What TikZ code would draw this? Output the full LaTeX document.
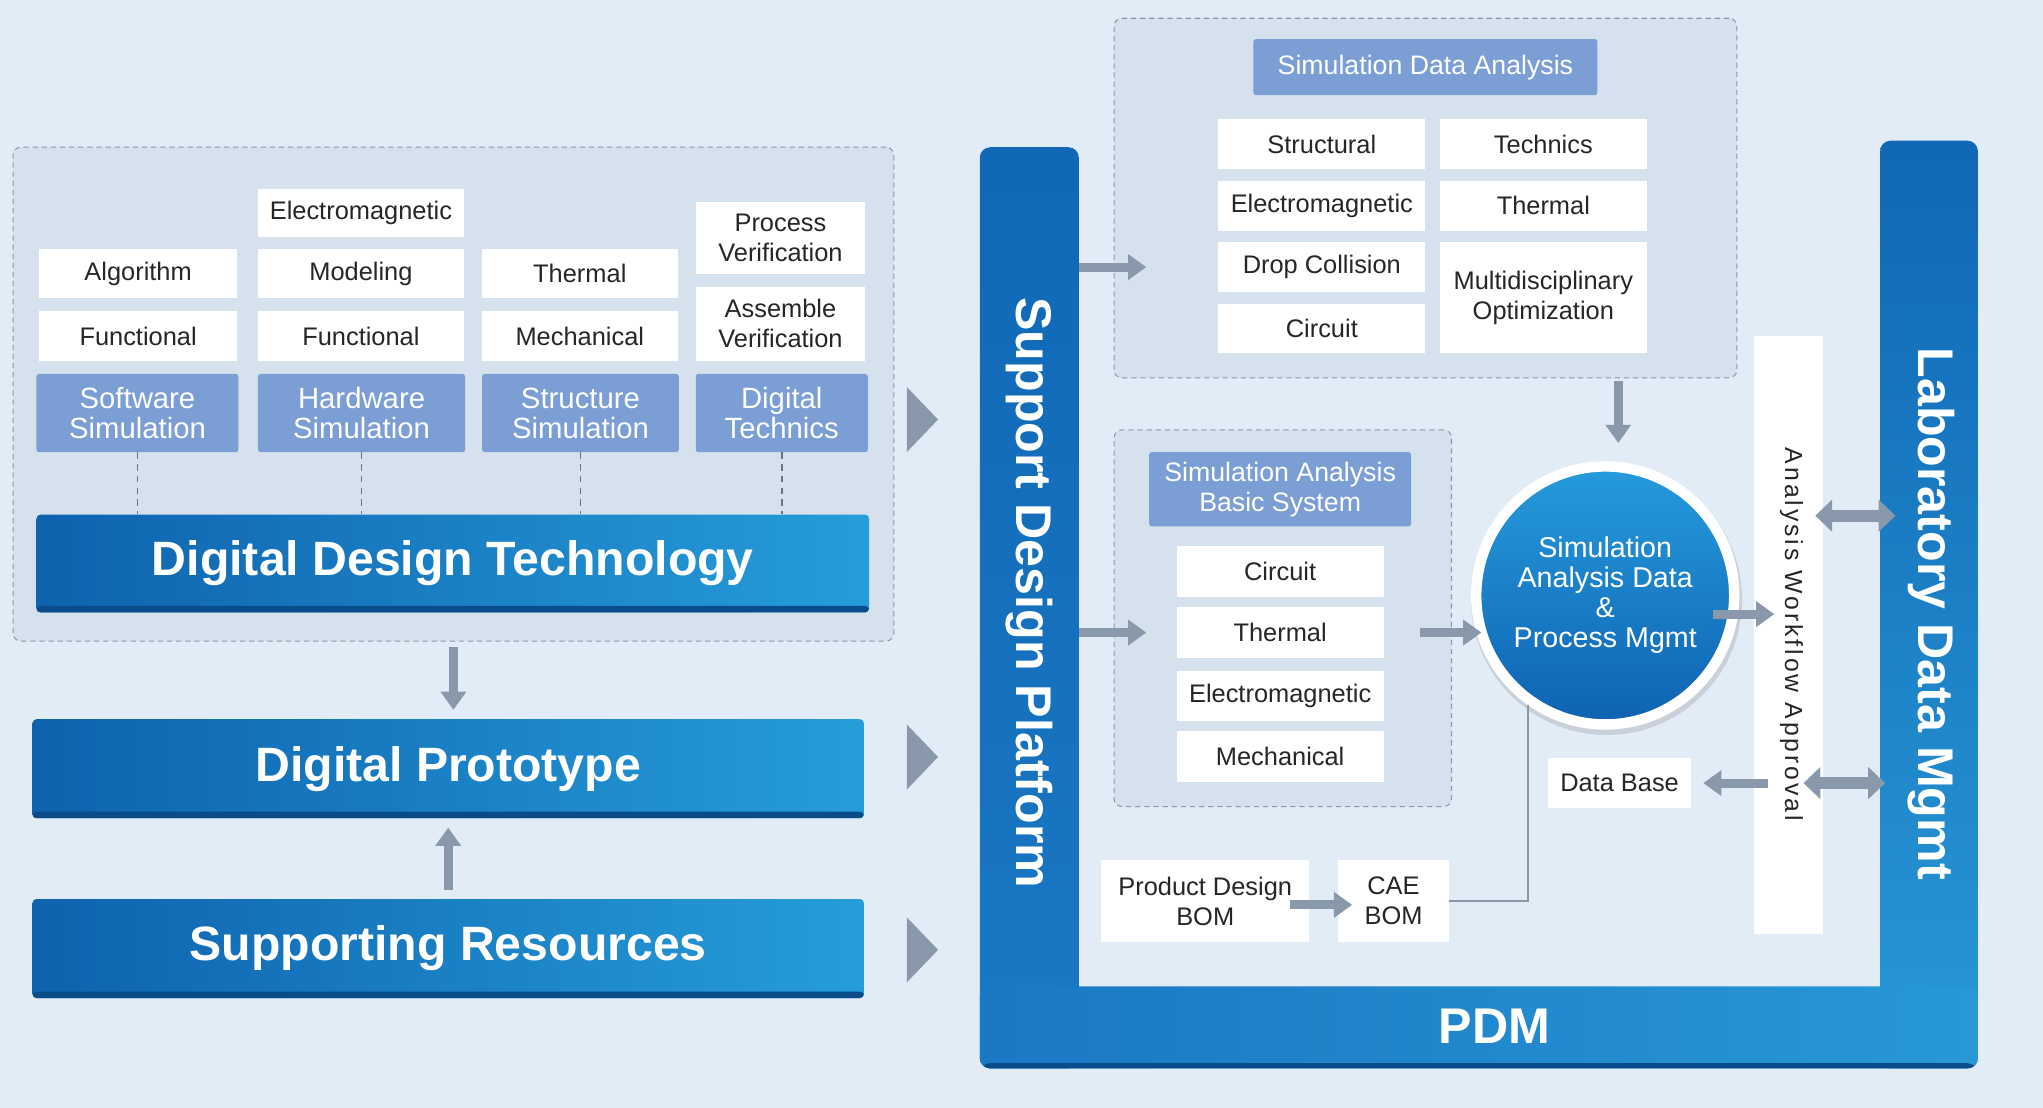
\documentclass[tikz,border=0pt]{standalone}
\usepackage{fontspec}
\setmainfont{Liberation Sans}
\usepackage{xcolor}
\usepackage{tikz}
\usetikzlibrary{arrows.meta, positioning, shapes.geometric, shadows, calc}
\definecolor{bgblue}{RGB}{226,236,247}
\definecolor{panelfill}{RGB}{213,226,238}
\definecolor{dashgray}{RGB}{140,152,170}
\definecolor{tickgray}{RGB}{105,115,132}
\definecolor{headblue}{RGB}{123,158,213}
\definecolor{barL}{RGB}{14,98,174}
\definecolor{barR}{RGB}{38,157,218}
\definecolor{barEdge}{RGB}{10,76,138}
\definecolor{arrowgray}{RGB}{138,152,172}
\definecolor{linegray}{RGB}{140,150,165}
\definecolor{celltext}{RGB}{38,38,38}
\definecolor{frameTop}{RGB}{16,104,182}
\definecolor{frameBot}{RGB}{26,120,196}
\definecolor{frameR}{RGB}{40,152,214}
\definecolor{circTop}{RGB}{38,155,220}
\definecolor{circBot}{RGB}{14,98,178}
\tikzset{
    sz/.style 2 args={minimum width=#1pt, minimum height=#2pt},
    cell/.style={fill=white, inner sep=0pt, align=center, text=celltext, font=\fontsize{19.5}{23}\selectfont},
    head/.style={fill=headblue, rounded corners=2pt, inner sep=0pt, align=center, text=white},
    bluebar/.style={left color=barL, right color=barR, rounded corners=3pt, inner sep=0pt, text=white,
        font=\bfseries\fontsize{37}{40}\selectfont,
        path picture={\fill[barEdge] (path picture bounding box.south west) rectangle ([yshift=5pt]path picture bounding box.south east);}},
    panel/.style={draw=dashgray, dash pattern=on 4pt off 3pt, line width=0.8pt, fill=panelfill, rounded corners=6pt, inner sep=0pt},
    framebar/.style={inner sep=0pt, rounded corners=8pt},
    framelabel/.style={text=white, font=\bfseries\fontsize{38.5}{40}\selectfont},
    blk/.style={draw=arrowgray, line width=7pt, -{Triangle[width=19pt,length=14pt]}},
    dbl/.style={draw=arrowgray, line width=9pt, {Triangle[width=24pt,length=13pt]}-{Triangle[width=24pt,length=13pt]}},
    tri/.style={isosceles triangle, isosceles triangle stretches, fill=arrowgray, minimum width=50pt, minimum height=24pt, inner sep=0pt}
}
\begin{document}
\begin{tikzpicture}[x=1pt, y=-1pt]
    \useasboundingbox (0,0) rectangle (1568,850);
    \fill[bgblue] (0,0) rectangle (1568,850);

    % 1. Digital design technology panel
    \node[panel, sz={676}{379}] (ddtp) at (348,302.5) {};
    \node[cell, sz={158}{37}] (em1) at (277,163.5) {Electromagnetic};
    \node[cell, sz={152}{38}] (alg) at (106,210) {Algorithm};
    \node[cell, sz={158}{38}] (mod) at (277,210) {Modeling};
    \node[cell, sz={150}{38}] (thm1) at (445,210) {Thermal};
    \node[cell, sz={130}{55}] (pver) at (599,182.5) {Process\\Verification};
    \node[cell, sz={152}{38}] (fun1) at (106,258) {Functional};
    \node[cell, sz={158}{38}] (fun2) at (277,258) {Functional};
    \node[cell, sz={150}{38}] (mech1) at (445,258) {Mechanical};
    \node[cell, sz={130}{57}] (aver) at (599,248.5) {Assemble\\Verification};
    \node[head, sz={155}{60}, font=\fontsize{22.5}{23}\selectfont] (sws) at (105.5,317) {Software\\Simulation};
    \node[head, sz={159}{60}, font=\fontsize{22.5}{23}\selectfont] (hws) at (277.5,317) {Hardware\\Simulation};
    \node[head, sz={151}{60}, font=\fontsize{22.5}{23}\selectfont] (sts) at (445.5,317) {Structure\\Simulation};
    \node[head, sz={132}{60}, font=\fontsize{22.5}{23}\selectfont] (dgt) at (600,317) {Digital\\Technics};
    \node[bluebar, sz={639}{75}] (ddt) at (347.5,432.5) {Digital Design Technology};
    \draw[tickgray, dash pattern=on 5pt off 4pt, line width=1.2pt] (sws.south) -- (sws.south |- ddt.north);
    \draw[tickgray, dash pattern=on 5pt off 4pt, line width=1.2pt] (hws.south) -- (hws.south |- ddt.north);
    \draw[tickgray, dash pattern=on 5pt off 4pt, line width=1.2pt] (sts.south) -- (sts.south |- ddt.north);
    \draw[tickgray, dash pattern=on 5pt off 4pt, line width=1.2pt] (dgt.south) -- (dgt.south |- ddt.north);

    % 2. Prototype and resources
    \node[bluebar, sz={638}{76}] (dp) at (344,590) {Digital Prototype};
    \node[bluebar, sz={638}{76}] (sr) at (344,728) {Supporting Resources};
    \draw[blk, shorten <=4pt, shorten >=7pt] (ddtp.south) -- (ddtp.south |- dp.north);
    \draw[blk, shorten <=7pt, shorten >=7pt] (sr.north) -- (sr.north |- dp.south);
    \node[tri] (tri1) at (706,322) {};
    \node[tri] (tri2) at (706,581) {};
    \node[tri] (tri3) at (706,729) {};

    % 3. Platform frame
    \node[framebar, sz={76}{707}, top color=frameTop, bottom color=frameBot] (spt) at (790,466.5) {};
    \node[framebar, sz={75}{712}, top color=frameTop, bottom color=frameR] (lab) at (1480.5,464) {};
    \node[framebar, sz={766}{63}, left color=frameBot, right color=frameR,
        path picture={\fill[barEdge] (path picture bounding box.south west) rectangle ([yshift=4pt]path picture bounding box.south east);}] (pdm) at (1135,788.5) {};
    \node[framelabel, rotate=-90] (sptlabel) at (790,455) {Support Design Platform};
    \node[framelabel, rotate=-90] (lablabel) at (1482,471) {Laboratory Data Mgmt};
    \node[framelabel] (pdmlabel) at (1147,788) {PDM};

    % 4. Simulation data analysis
    \node[panel, sz={478}{276}] (sda) at (1094,152) {};
    \node[head, sz={264}{43}, font=\fontsize{20.5}{23}\selectfont] (sdah) at (1094,51.5) {Simulation Data Analysis};
    \node[cell, sz={159}{39}] (strc) at (1014.5,110.5) {Structural};
    \node[cell, sz={159}{39}] (tech) at (1184.5,110.5) {Technics};
    \node[cell, sz={159}{38}] (em2) at (1014.5,158) {Electromagnetic};
    \node[cell, sz={159}{38}] (thm2) at (1184.5,158) {Thermal};
    \node[cell, sz={159}{38}] (drop) at (1014.5,205) {Drop Collision};
    \node[cell, sz={159}{38}] (circ1) at (1014.5,252) {Circuit};
    \node[cell, sz={159}{85}] (mdo) at (1184.5,228.5) {Multidisciplinary\\Optimization};

    % 5. Simulation analysis basic system
    \node[panel, sz={259}{289}] (sab) at (984.5,474.5) {};
    \node[head, sz={201}{57}, font=\fontsize{20.5}{23}\selectfont] (sabh) at (982.5,375.5) {Simulation Analysis\\Basic System};
    \node[cell, sz={159}{39}] (circ2) at (982.5,438.5) {Circuit};
    \node[cell, sz={159}{39}] (thm3) at (982.5,485.5) {Thermal};
    \node[cell, sz={159}{38}] (em3) at (982.5,534) {Electromagnetic};
    \node[cell, sz={159}{39}] (mech2) at (982.5,580.5) {Mechanical};

    % 6. Management circle, workflow and BOM
    \node[fill=white, sz={53}{459}, inner sep=0pt] (wf) at (1372.5,487.5) {};
    \node[rotate=-90, text=celltext, font=\fontsize{19}{20}\selectfont\addfontfeature{LetterSpace=12}] (wftxt) at (1375,487) {Analysis Workflow Approval};
    \node[cell, sz={110}{38}] (db) at (1243,601) {Data Base};
    \node[cell, sz={160}{63}] (pd) at (925,691.5) {Product Design\\BOM};
    \node[cell, sz={85}{63}] (cae) at (1069.5,691.5) {CAE\\BOM};
    \node[circle, sz={198}{198}, draw=white, line width=8pt, top color=circTop, bottom color=circBot,
        drop shadow={shadow xshift=1pt, shadow yshift=-3pt, shadow scale=1.05, opacity=0.25},
        text=white, align=center, font=\fontsize{22}{23}\selectfont] (circ) at (1232,457) {Simulation\\Analysis Data\\\&\\Process Mgmt};
    \draw[linegray, line width=1.8pt] (cae.east) -| (circ.-125);

    % 7. Arrows
    \draw[blk, shorten >=55pt] (spt.east |- drop.west) -- (drop.west);
    \draw[blk, shorten >=23pt] (spt.east |- thm3.west) -- (thm3.west);
    \draw[blk, shorten <=28pt, shorten >=-8pt] (thm3.east) -- (thm3.east -| circ.west);
    \draw[blk, shorten <=2pt, shorten >=14pt] ([xshift=10pt]circ.north |- sda.south) -- ([xshift=10pt]circ.north);
    \draw[blk, shorten <=-19pt, shorten >=-16pt] (circ.-8) -- (circ.-8 -| wf.west);
    \draw[blk, shorten <=-11pt, shorten >=9pt] (wf.west |- db.east) -- (db.east);
    \draw[dbl, shorten <=-6pt, shorten >=-12pt] ([yshift=-138pt]wf.north east) -- ([yshift=-138pt]wf.north east -| lab.west);
    \draw[dbl, shorten <=-15pt, shorten >=-4pt] (wf.east |- db.east) -- (lab.west |- db.east);
    \draw[blk, shorten <=-15pt, shorten >=-11pt] ([yshift=-3pt]pd.east) -- ([yshift=-3pt]cae.west);
\end{tikzpicture}
\end{document}
